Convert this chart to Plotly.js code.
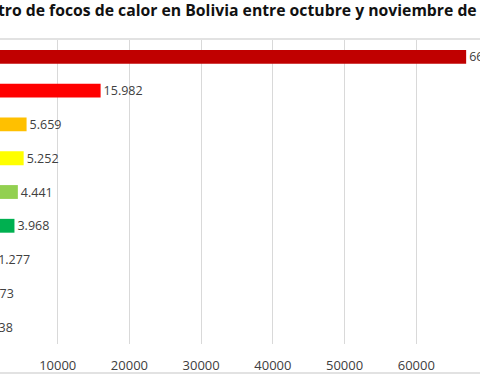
<!DOCTYPE html>
<html>
<head>
<meta charset="utf-8">
<script src="https://cdn.plot.ly/plotly-3.0.1.min.js"></script>
<style>
html,body{margin:0;padding:0;width:480px;height:384px;overflow:hidden;background:#fff;}
#chart{position:absolute;left:-100px;top:0;width:600px;height:384px;}
</style>
</head>
<body>
<div id="chart"></div>
<script>
// Data (sorted descending; largest at top)
const departamentos = ["Santa Cruz", "Beni", "La Paz", "Pando", "Cochabamba", "Tarija", "Chuquisaca", "Potosí", "Oruro"];
const focos = [66953, 15982, 5659, 5252, 4441, 3968, 1277, 473, 338];
const colores = ["#c00000", "#ff0000", "#ffc000", "#ffff00", "#92d050", "#00b050", "#00b0f0", "#0070c0", "#002060"];
const tickValores = [10000, 20000, 30000, 40000, 50000, 60000, 70000];
const titulo = "Registro de focos de calor en Bolivia entre octubre y noviembre de 2019";

const trace = {
  type: "bar",
  orientation: "h",
  x: focos,
  y: departamentos,
  marker: {color: colores},
  texttemplate: "%{x:,}",
  textposition: "outside",
  constraintext: "none",
  cliponaxis: false,
  textfont: {family: "Open Sans", size: 12.5, color: "#404040"},
  hoverinfo: "none"
};

const layout = {
  width: 600,
  height: 384,
  margin: {l: 86, r: 12, t: 40, b: 40},
  paper_bgcolor: "#ffffff",
  plot_bgcolor: "#ffffff",
  separators: ",.",
  showlegend: false,
  bargap: 0.59,
  title: {
    text: "<b>" + titulo + "</b>",
    font: {family: "Open Sans", size: 15.75, color: "#111111"},
    xref: "container", x: 0.0945, xanchor: "left",
    yref: "container", y: 0.972, yanchor: "middle"
  },
  xaxis: {
    range: [0, 70000],
    tickvals: tickValores,
    exponentformat: "none",
    separatethousands: false,
    tickformat: "d",
    showgrid: true,
    gridcolor: "#d9d9d9",
    gridwidth: 1,
    zeroline: false,
    showline: false,
    ticks: "outside",
    ticklen: 9,
    tickcolor: "rgba(0,0,0,0)",
    tickfont: {family: "Open Sans", size: 13, color: "#404040"},
    fixedrange: true
  },
  yaxis: {
    categoryorder: "array",
    categoryarray: departamentos.slice().reverse(),
    showticklabels: false,
    showgrid: false,
    zeroline: false,
    ticks: "",
    fixedrange: true
  },
  shapes: [
    {type: "line", xref: "paper", yref: "paper", x0: -0.2, x1: 1.1, y0: 1.0033, y1: 1.0033, line: {color: "#d9d9d9", width: 1.5}},
    {type: "line", xref: "paper", yref: "paper", x0: -0.2, x1: 1.1, y0: -0.0954, y1: -0.0954, line: {color: "#d9d9d9", width: 1.5}}
  ]
};

Plotly.newPlot("chart", [trace], layout, {displayModeBar: false, staticPlot: true});
</script>
</body>
</html>
